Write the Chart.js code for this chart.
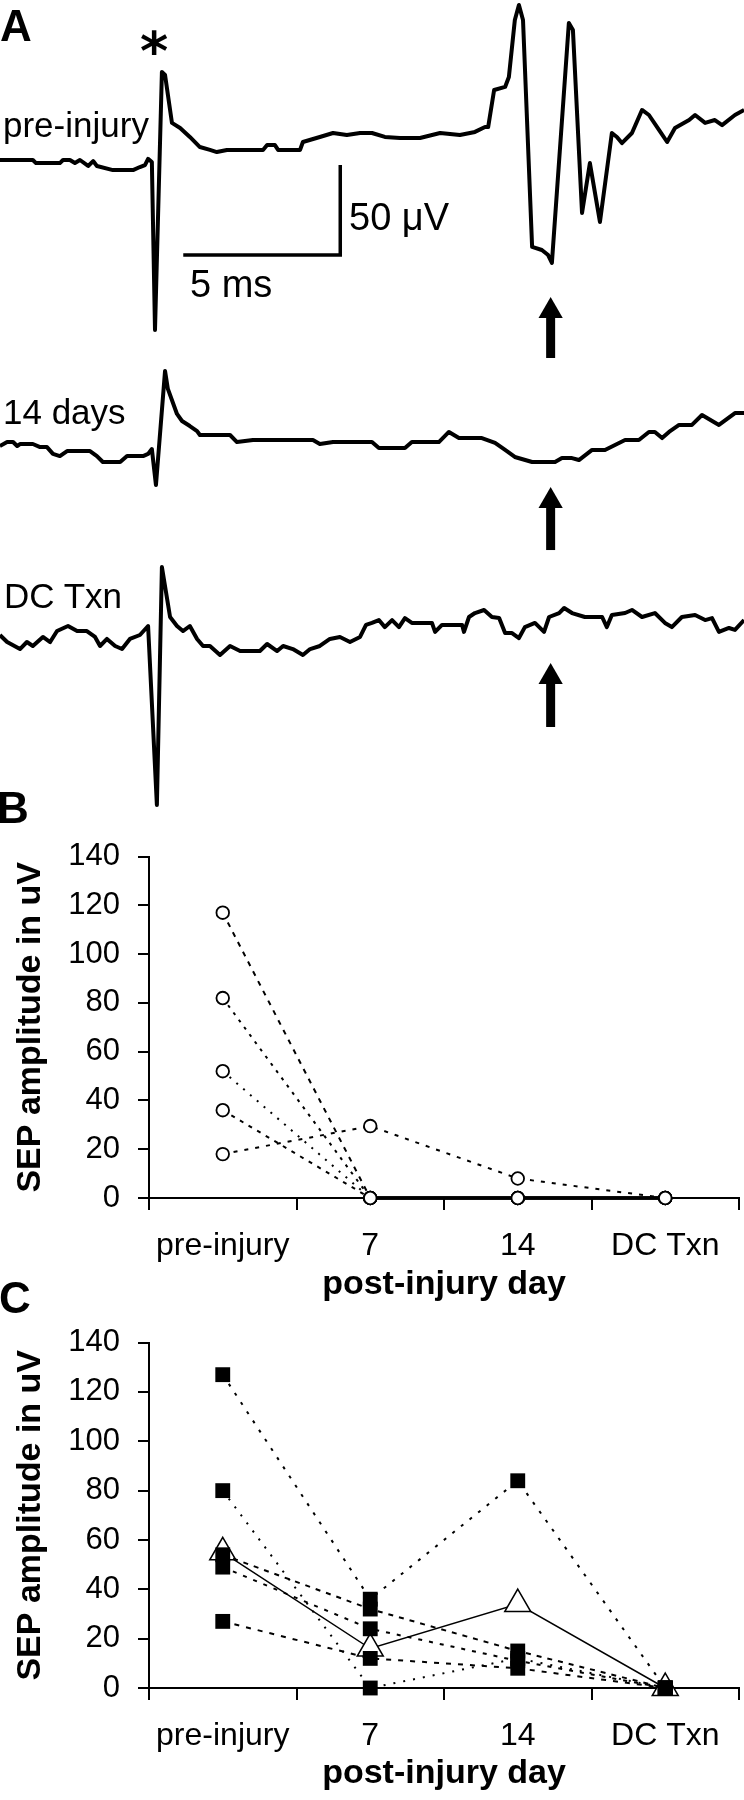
<!DOCTYPE html>
<html>
<head>
<meta charset="utf-8">
<script src="https://cdn.jsdelivr.net/npm/chart.js@4.4.0/dist/chart.umd.min.js"></script>
<style>
  html, body { margin: 0; padding: 0; background: #fff; }
  #page { position: relative; width: 744px; height: 1800px; overflow: hidden; font-family: 'Liberation Sans', Arial, sans-serif; color: #000; }
  .box { position: absolute; left: 0; width: 744px; }
  .lbl { position: absolute; line-height: 1; white-space: nowrap; }
  .panel { font-weight: bold; font-size: 44px; }
</style>
</head>
<body>
<div id="page">
  <div class="box" style="top:0;height:840px"><canvas id="traceChart"></canvas></div>
  <div class="box" style="top:820px;height:500px"><canvas id="chartB"></canvas></div>
  <div class="box" style="top:1306px;height:494px"><canvas id="chartC"></canvas></div>

  <div class="lbl panel" style="left:0px;top:4px">A</div>
  <div class="lbl" style="left:124px;top:25px;width:60px;text-align:center;font-family:'DejaVu Sans';font-weight:bold;font-size:54px">*</div>
  <div class="lbl" style="left:3px;top:107px;font-size:35px">pre-injury</div>
  <div class="lbl" style="left:349px;top:198px;font-size:38px">50 μV</div>
  <div class="lbl" style="left:190px;top:265px;font-size:38px">5 ms</div>
  <div class="lbl" style="left:3px;top:394px;font-size:35px">14 days</div>
  <div class="lbl" style="left:4px;top:578px;font-size:35px">DC Txn</div>
  <div class="lbl panel" style="left:-3px;top:786px">B</div>
  <div class="lbl panel" style="left:-1px;top:1276px">C</div>
</div>

<script>
// SEP traces, time in ms from the stimulus, amplitude in uV
const preInjuryMs = [-4.94, -3.89, -3.79, -3.03, -2.93, -2.71, -2.55, -2.39, -2.13, -1.97, -1.85, -1.34, -0.70, -0.48, -0.32, -0.22, -0.10, 0.00, 0.22, 0.32, 0.54, 0.80, 1.11, 1.43, 1.75, 1.97, 2.29, 3.44, 3.57, 3.82, 3.92, 4.62, 4.71, 5.25, 5.67, 6.11, 6.53, 6.91, 7.32, 7.80, 8.44, 9.08, 9.71, 10.19, 10.51, 10.61, 10.80, 11.15, 11.27, 11.46, 11.59, 11.72, 12.01, 12.32, 12.52, 12.64, 13.18, 13.31, 13.60, 13.85, 14.17, 14.55, 14.71, 14.87, 15.19, 15.51, 15.73, 16.05, 16.31, 16.56, 17.01, 17.20, 17.52, 17.83, 18.06, 18.47, 18.76];
const preInjuryUv = [0, 0, -1.7, -1.7, 0, 0, -1.7, 0, -3.3, -0.6, -3.3, -5.6, -5.6, -3.9, -2.8, 0.6, -1.1, -94.4, 48.9, 47.2, 20.6, 17.8, 12.8, 7.2, 5.6, 4.4, 5.6, 5.6, 8.3, 8.3, 5.6, 5.6, 10, 12.8, 15, 13.9, 15, 15, 12.8, 12.2, 12.2, 15, 13.9, 15.6, 18.3, 18.3, 38.9, 40.6, 46.1, 77.8, 86.1, 77.8, -48.3, -50, -52.8, -57.2, 76.1, 72.2, -29.4, -1.7, -34.4, 15, 12.8, 9.4, 15, 27.8, 25, 16.7, 10, 17.8, 22.2, 25, 20.6, 22.2, 19.4, 25, 27.8];

const day14Ms = [-4.94, -4.71, -4.52, -4.39, -4.30, -3.89, -3.66, -3.44, -3.25, -3.03, -2.80, -2.07, -1.85, -1.66, -1.11, -0.89, -0.38, -0.22, -0.10, 0.03, 0.32, 0.41, 0.70, 0.86, 1.11, 1.34, 1.43, 2.39, 2.61, 3.12, 5.03, 5.25, 5.67, 6.91, 7.13, 7.96, 8.18, 9.04, 9.36, 9.68, 10.41, 10.83, 11.15, 11.46, 12.01, 12.74, 12.96, 13.28, 13.50, 13.92, 14.33, 14.65, 14.97, 15.41, 15.73, 15.92, 16.15, 16.37, 16.69, 17.10, 17.42, 17.96, 18.47, 18.76];
const day14Uv = [0, 2.2, 2.2, 0, 1.1, 1.1, -0.6, -0.6, -4.4, -5.6, -2.8, -2.8, -5.6, -8.9, -8.9, -5.6, -5.6, -4.4, -1.7, -21.7, 41.7, 31.7, 17.8, 13.9, 11.1, 8.3, 6.1, 6.1, 2.2, 3.3, 3.3, 1.1, 2.2, 2.2, -1.1, -1.1, 2.2, 2.2, 7.8, 4.4, 4.4, 1.7, -2.2, -6.1, -8.9, -8.9, -6.7, -6.7, -7.8, -2.2, -2.2, 0.6, 3.3, 3.3, 7.8, 7.8, 4.4, 7.8, 11.7, 11.7, 17.2, 11.7, 18.3, 18.3];

const dcTxnMs = [-4.94, -4.71, -4.30, -4.08, -3.89, -3.57, -3.34, -3.12, -2.77, -2.48, -2.17, -1.91, -1.75, -1.53, -1.27, -1.05, -0.80, -0.48, -0.22, 0.06, 0.22, 0.48, 0.70, 0.89, 1.11, 1.34, 1.53, 1.75, 2.07, 2.39, 2.71, 3.34, 3.57, 3.89, 4.08, 4.39, 4.71, 4.94, 5.25, 5.57, 5.89, 6.21, 6.53, 6.72, 6.91, 7.13, 7.32, 7.55, 7.77, 7.96, 8.18, 8.82, 8.92, 9.14, 9.78, 9.84, 10.00, 10.19, 10.48, 10.73, 10.96, 11.15, 11.37, 11.59, 11.78, 12.10, 12.39, 12.55, 12.87, 13.03, 13.28, 13.69, 14.24, 14.39, 14.55, 14.97, 15.19, 15.51, 15.92, 16.24, 16.46, 16.78, 17.20, 17.52, 17.74, 17.96, 18.28, 18.47, 18.76];
const dcTxnUv = [0, -3.9, -7.8, -3.9, -6.1, -1.1, -3.9, 2.2, 5, 2.2, 2.2, -1.1, -6.1, -2.2, -6.1, -7.8, -2.2, 0, 5, -94.4, 37.8, 10, 5, 2.2, 5, -2.2, -6.1, -6.1, -11.1, -6.1, -8.9, -8.9, -5, -8.9, -6.1, -7.8, -11.1, -7.8, -6.1, -2.2, -1.1, -3.9, -1.1, 5.6, 6.7, 8.3, 4.4, 8.3, 4.4, 9.4, 6.7, 6.7, 1.7, 5.6, 5.6, 1.7, 10, 12.2, 13.9, 10, 9.4, 1.1, 1.1, -1.7, 4.4, 6.7, 1.7, 10, 12.2, 15, 12.2, 10, 10, 4.4, 11.1, 12.2, 13.9, 10, 12.2, 6.7, 4.4, 10, 11.1, 8.3, 9.4, 1.7, 3.9, 2.8, 8.3];

// scale bar and response arrows (ms / uV, relative to each trace)
const SCALE_BAR_MS = 5;
const SCALE_BAR_UV = 50;
const scaleBarStart = [0.9, -52.8];
const ARROW_MS = 12.6;
const arrowHeadUv = [-83.9, -30.6, -23.3];
const arrowTailUv = [-110, -57.8, -51.1];

// panels B and C
const categories = ['pre-injury', '7', '14', 'DC Txn'];
const yTicks = [0, 20, 40, 60, 80, 100, 120, 140];
const bAnimal1 = [117, 0, 0, 0];
const bAnimal2 = [82, 0, 0, 0];
const bAnimal3 = [52, 0, 0, 0];
const bAnimal4 = [36, 0, 0, 0];
const bAnimal5 = [18, 29.5, 8, 0];
const cAnimal1 = [127, 36, 84, 0];
const cAnimal2 = [80, 0, 12, 0];
const cAnimal3 = [54, 32, 15, 0];
const cAnimal4 = [49, 24, 11, 0];
const cAnimal5 = [27, 12, 8, 0];
const cMean = [55, 16, 34, 0];

// layout of panel A
const FONT = "'Liberation Sans', Arial, sans-serif";
const TRACE_H = 840;
const PX_PER_MS = 31.4;
const PX_PER_UV = 1.8;
const STIM_PX = 155;
const traceBaselinePx = [160, 446, 635];

function toPoints(ms, uv) {
  return ms.map((t, i) => ({ x: t, y: uv[i] }));
}

function traceAxis(baselinePx) {
  return {
    type: 'linear',
    display: false,
    min: -(TRACE_H - baselinePx) / PX_PER_UV,
    max: baselinePx / PX_PER_UV
  };
}

const axisIds = ['yPre', 'y14', 'yDC'];
const traceSets = [
  toPoints(preInjuryMs, preInjuryUv),
  toPoints(day14Ms, day14Uv),
  toPoints(dcTxnMs, dcTxnUv)
];

const traceDatasets = [];
traceSets.forEach((pts, i) => {
  traceDatasets.push({
    data: pts, yAxisID: axisIds[i], showLine: true, borderColor: '#000', borderWidth: 4,
    pointRadius: 0, borderJoinStyle: 'round', tension: 0, clip: false
  });
  traceDatasets.push({
    data: [{ x: ARROW_MS, y: arrowTailUv[i] }, { x: ARROW_MS, y: arrowHeadUv[i] }],
    yAxisID: axisIds[i], showLine: true, borderColor: '#000', borderWidth: 9,
    borderCapStyle: 'butt', pointRadius: 0, clip: false
  });
  traceDatasets.push({
    data: [{ x: ARROW_MS, y: arrowHeadUv[i] }], yAxisID: axisIds[i], showLine: false,
    pointStyle: 'triangle', pointRadius: 14, pointBackgroundColor: '#000', pointBorderWidth: 0, clip: false
  });
});

traceDatasets.push({
  data: [
    { x: scaleBarStart[0], y: scaleBarStart[1] },
    { x: scaleBarStart[0] + SCALE_BAR_MS, y: scaleBarStart[1] },
    { x: scaleBarStart[0] + SCALE_BAR_MS, y: scaleBarStart[1] + SCALE_BAR_UV }
  ],
  yAxisID: 'yPre', showLine: true, borderColor: '#000', borderWidth: 3.5,
  borderCapStyle: 'butt', borderJoinStyle: 'miter', pointRadius: 0, clip: false
});

new Chart(document.getElementById('traceChart'), {
  type: 'scatter',
  data: { datasets: traceDatasets },
  options: {
    responsive: true,
    maintainAspectRatio: false,
    animation: false,
    layout: { padding: 0, autoPadding: false },
    scales: {
      x: { type: 'linear', display: false, min: -STIM_PX / PX_PER_MS, max: (744 - STIM_PX) / PX_PER_MS },
      yPre: traceAxis(traceBaselinePx[0]),
      y14: traceAxis(traceBaselinePx[1]),
      yDC: traceAxis(traceBaselinePx[2])
    },
    plugins: { legend: { display: false }, tooltip: { enabled: false } }
  }
});

// segments lying on zero overlap into one solid line in the original
const zeroSegment = {
  borderDash: (ctx) => (ctx.p0.parsed.y === 0 && ctx.p1.parsed.y === 0 ? [] : undefined),
  borderWidth: (ctx) => (ctx.p0.parsed.y === 0 && ctx.p1.parsed.y === 0 ? 3 : undefined)
};

function animalSet(values, dash, style) {
  const filled = style === 'rect';
  return {
    data: values,
    borderColor: '#000',
    borderWidth: 2,
    borderDash: dash,
    tension: 0,
    clip: false,
    segment: filled ? undefined : zeroSegment,
    pointStyle: style,
    pointRadius: filled ? 10.5 : 6.3,
    pointBackgroundColor: filled ? '#000' : '#fff',
    pointBorderColor: '#000',
    pointBorderWidth: filled ? 0 : 1.8
  };
}

function sepChart(canvasId, datasets, plotTop, plotBottom, canvasH, titlePad) {
  return new Chart(document.getElementById(canvasId), {
    type: 'line',
    data: { labels: categories, datasets },
    options: {
      responsive: true,
      maintainAspectRatio: false,
      animation: false,
      layout: { padding: { top: plotTop, right: 5, left: 0, bottom: 0 }, autoPadding: false },
      scales: {
        x: {
          type: 'category',
          offset: true,
          grid: { offset: true, drawOnChartArea: false, drawTicks: true, tickLength: 12, color: '#000', lineWidth: 2 },
          border: { display: true, color: '#000', width: 2 },
          ticks: { color: '#000', font: { family: FONT, size: 32 }, padding: 17, maxRotation: 0, autoSkip: false },
          title: {
            display: true, text: 'post-injury day', color: '#000',
            font: { family: FONT, size: 34, weight: 'bold' }, padding: { top: 0, bottom: titlePad }
          },
          afterFit: (scale) => { scale.height = canvasH - plotBottom; }
        },
        y: {
          min: yTicks[0],
          max: yTicks[yTicks.length - 1],
          afterBuildTicks: (scale) => { scale.ticks = yTicks.map((v) => ({ value: v })); },
          grid: { drawOnChartArea: false, drawTicks: true, tickLength: 11, color: '#000', lineWidth: 2 },
          border: { display: true, color: '#000', width: 2 },
          ticks: { color: '#000', font: { family: FONT, size: 31 }, padding: 18 },
          title: {
            display: true, text: 'SEP amplitude in uV', color: '#000',
            font: { family: FONT, size: 34, weight: 'bold' }, padding: { top: 10, bottom: 0 }
          },
          afterFit: (scale) => { scale.width = 149; }
        }
      },
      plugins: { legend: { display: false }, tooltip: { enabled: false } }
    }
  });
}

sepChart('chartB', [
  animalSet(bAnimal1, [5, 6], 'circle'),
  animalSet(bAnimal2, [3, 6], 'circle'),
  animalSet(bAnimal3, [2, 7], 'circle'),
  animalSet(bAnimal4, [4, 6], 'circle'),
  animalSet(bAnimal5, [4, 7], 'circle')
], 22, 378, 500, 15);

const meanSet = {
  data: cMean,
  borderColor: '#000',
  borderWidth: 1.5,
  tension: 0,
  clip: false,
  pointStyle: 'triangle',
  pointRadius: 15,
  pointBackgroundColor: '#fff',
  pointBorderColor: '#000',
  pointBorderWidth: 1.5
};

sepChart('chartC', [
  animalSet(cAnimal1, [3, 8], 'rect'),
  animalSet(cAnimal2, [2, 8], 'rect'),
  animalSet(cAnimal3, [5, 6], 'rect'),
  animalSet(cAnimal4, [4, 7], 'rect'),
  animalSet(cAnimal5, [5, 7], 'rect'),
  meanSet
], 22, 382, 494, 6);
</script>
</body>
</html>
